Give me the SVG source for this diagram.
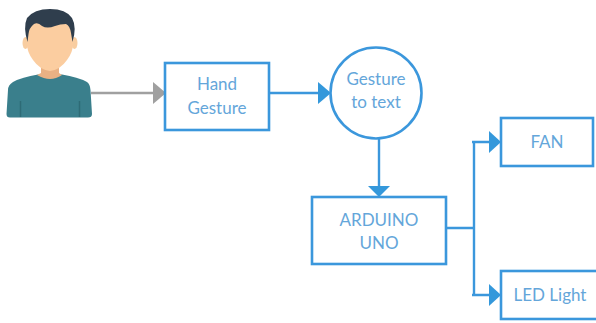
<svg xmlns="http://www.w3.org/2000/svg" width="596" height="323" viewBox="0 0 596 323">
<style>
.box{fill:#fff;stroke:#3b97dc;stroke-width:2.6}
.c{fill:none;stroke:#3b97dc;stroke-width:2.4}
.h{fill:#3498db}
text{font-family:Lato,"Open Sans",sans-serif;font-size:17px;fill:#64a6da;text-anchor:middle}
</style>
<rect width="596" height="323" fill="#fff"/>
<g id="person">
<path d="M6.500 114L8 90Q8 85 13 82Q22 77 38 74.500H62Q78 77 87 82Q90 84 90.500 90L92 114Q92 117.500 88 117.500H10Q6.500 117.500 6.500 114Z" fill="#3a7f8c"/>
<path d="M20.500 117V101M79.500 117V101" stroke="#2e6b76" stroke-width="1.500"/>
<path d="M41 64H59V73L62 75Q56 79 50 79Q44 79 37 75L41 73Z" fill="#e8b184"/>
<ellipse cx="25.500" cy="43" rx="3" ry="6" fill="#f8cda0"/>
<ellipse cx="74.500" cy="43" rx="3" ry="6" fill="#f8cda0"/>
<path d="M27 22H73V44Q73 52 67 60Q60 70 50 71Q40 70 33 60Q27 52 27 44Z" fill="#fbcda0"/>
<path d="M27.500 42Q23 27 27 18Q34 9 50 9Q66 9 72 18Q77 27 72.500 42L71 33Q70 26 66 24Q60 24 55 26Q47 29 42 26Q38 22 34 24Q29 28 28.500 34Z" fill="#2f3e4d"/>
</g>
<g id="connectors">
<path d="M91 93H156" fill="none" stroke="#a0a0a0" stroke-width="2.400"/>
<path d="M153 82L166 93L153 104Z" fill="#a0a0a0"/>
<path class="c" d="M270 93H320"/>
<path class="h" d="M318 82L331 93L318 104Z"/>
<path class="c" d="M379 135V187"/>
<path class="h" d="M368 186H390L379 197Z"/>
<path class="c" d="M447 228H474M474 142V294M472 142H491M472 295H491"/>
<path class="h" d="M489 131L501 142L489 153Z"/>
<path class="h" d="M489 284L501 295L489 306Z"/>
</g>
<g id="hand-gesture">
<rect class="box" x="165" y="63" width="104" height="67"/>
<text x="217" y="90">Hand</text>
<text x="217" y="114">Gesture</text>
</g>
<g id="gesture-to-text">
<circle class="box" cx="376" cy="93" r="45.500"/>
<text x="376" y="85">Gesture</text>
<text x="376" y="108">to text</text>
</g>
<g id="arduino-uno">
<rect class="box" x="312" y="197" width="134" height="67"/>
<text x="379" y="225.500">ARDUINO</text>
<text x="379" y="248.500">UNO</text>
</g>
<g id="fan">
<rect class="box" x="501" y="118" width="92" height="48"/>
<text x="547" y="148">FAN</text>
</g>
<g id="led-light">
<rect class="box" x="501" y="271" width="100" height="48"/>
<text x="550" y="301">LED Light</text>
</g>
</svg>
